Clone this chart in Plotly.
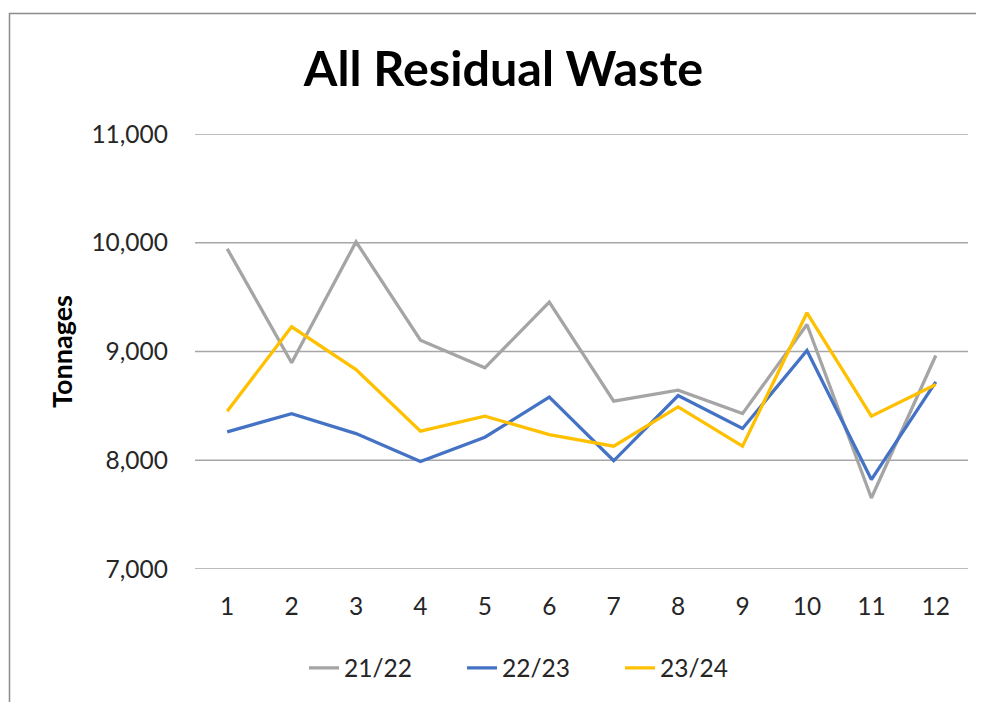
import plotly.graph_objects as go

months = [1, 2, 3, 4, 5, 6, 7, 8, 9, 10, 11, 12]
s_2122 = [9945, 8896, 10009, 9104, 8850, 9454, 8543, 8644, 8429, 9248, 7653, 8963]
s_2223 = [8261, 8429, 8245, 7988, 8212, 8580, 7995, 8595, 8292, 9009, 7822, 8721]
s_2324 = [8451, 9227, 8834, 8267, 8405, 8236, 8129, 8491, 8129, 9356, 8405, 8696]
series_names = ["21/22", "22/23", "23/24"]
colors = ["#A5A5A5", "#4472C4", "#FFC000"]
y_ticks = [7000, 8000, 9000, 10000, 11000]
y_tick_labels = ["7,000", "8,000", "9,000", "10,000", "11,000"]

# page has an 8px body margin; figure coordinates are offset accordingly
OFF = 8
L, R_EDGE, T, B_EDGE = 195 - OFF, 968 - OFF, 134 - OFF, 569 - OFF
W, H = 984, 702
PW, PH = R_EDGE - L, B_EDGE - T

fig = go.Figure()
for name, vals, col in zip(series_names, [s_2122, s_2223, s_2324], colors):
    fig.add_trace(go.Scatter(x=months, y=vals, mode="lines", name=name,
                             line=dict(color=col, width=3.3)))

shapes = [dict(type="rect", xref="paper", yref="paper",
               x0=(9.5 - OFF - L) / PW, x1=(1100 - L) / PW,
               y0=(B_EDGE - 800) / PH, y1=(B_EDGE - (13.5 - OFF)) / PH,
               line=dict(color="#8C8C8C", width=1.5), fillcolor="rgba(0,0,0,0)",
               layer="below")]
for v in y_ticks:
    shapes.append(dict(type="line", xref="paper", yref="y", x0=0, x1=1, y0=v, y1=v,
                       line=dict(color="#A6A6A6", width=1.3), layer="below"))

fig.update_layout(
    width=W, height=H,
    margin=dict(l=L, r=W - R_EDGE, t=T, b=H - B_EDGE),
    paper_bgcolor="white", plot_bgcolor="white",
    font=dict(family="Lato, Open Sans, sans-serif", color="#262626", size=24.5),
    title=dict(text="<b>All Residual Waste</b>", x=(503.5 - OFF) / W, xanchor="center",
               xref="container", yref="container", y=1 - (69 - OFF) / H, yanchor="middle",
               font=dict(size=48.5, color="#000000", family="Lato, sans-serif")),
    showlegend=True,
    legend=dict(orientation="h", x=(304 - OFF - L) / PW, xanchor="left",
                y=(B_EDGE - (668 - OFF)) / PH, yanchor="middle",
                font=dict(size=24.5, color="#262626"), entrywidth=113,
                entrywidthmode="pixels", itemwidth=30, bgcolor="rgba(0,0,0,0)"),
    shapes=shapes,
)
fig.update_xaxes(range=[0.5, 12.5], tickmode="array", tickvals=months,
                 ticktext=[str(m) for m in months], showgrid=False, zeroline=False,
                 showline=False, ticks="", ticklabelstandoff=20,
                 tickfont=dict(size=24.5, color="#262626"))
fig.update_yaxes(range=[7000, 11000], tickmode="array", tickvals=y_ticks,
                 ticktext=y_tick_labels, showgrid=False, zeroline=False,
                 showline=False, ticks="",
                 ticklabelstandoff=26, tickfont=dict(size=24.5, color="#262626"),
                 title=dict(text="<b>Tonnages</b>", standoff=10,
                            font=dict(size=27, color="#000000")))

fig.write_html("out.html")
